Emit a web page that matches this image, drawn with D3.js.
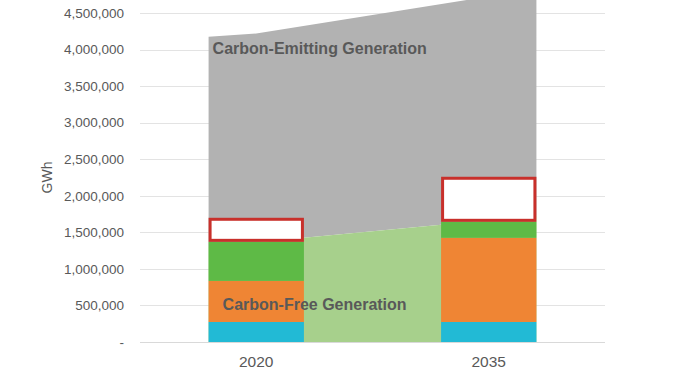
<!DOCTYPE html>
<html>
<head>
<meta charset="utf-8">
<script src="https://cdn.jsdelivr.net/npm/d3@7"></script>
<style>
  body { margin: 0; background: #fff; }
  svg { display: block; font-family: "Liberation Sans", Arial, sans-serif; }
</style>
</head>
<body>
<script>
// categories and stacked bar values (GWh)
var years = ["2020", "2035"];
var hydro = [274000, 274000];
var solar = [562000, 1151000];
var wind = [534000, 219000];
var gap = [329000, 616000];
var barColors = ["#22bad5", "#ef8534", "#5eba46"];

// background areas: points at 2020 left edge, 2020 centre, 2035 right edge
var freeArea = [1300000, 1365000, 1726000];
var totalArea = [4174000, 4219000, 4830000];

var yTicks = [0, 500000, 1000000, 1500000, 2000000, 2500000, 3000000, 3500000, 4000000, 4500000];

var width = 679, height = 375;
var margin = { top: 13, right: 74, bottom: 33, left: 140 };

var svg = d3.select('body')
  .append('svg')
  .attr('width', width)
  .attr('height', height);

var x = d3.scaleBand()
  .domain(years)
  .range([margin.left, width - margin.right])
  .paddingInner(0.59)
  .paddingOuter(0.295);

var y = d3.scaleLinear()
  .domain([0, 4500000])
  .range([height - margin.bottom, margin.top]);

var bw = x.bandwidth();

// gridlines
svg.append('g')
  .selectAll('line')
  .data(yTicks)
  .enter()
  .append('line')
  .attr('x1', margin.left)
  .attr('x2', width - margin.right)
  .attr('y1', function(d) { return Math.round(y(d)) + 0.5; })
  .attr('y2', function(d) { return Math.round(y(d)) + 0.5; })
  .attr('stroke', function(d) { return d === 0 ? '#d9d9d9' : '#e3e3e3'; })
  .attr('stroke-width', 1);

// y axis labels
var yAxis = d3.axisLeft(y)
  .tickValues(yTicks)
  .tickSize(0)
  .tickPadding(16)
  .tickFormat(function(d) { return d === 0 ? '-' : d3.format(',')(d); });

var yg = svg.append('g')
  .attr('transform', 'translate(' + margin.left + ',0)')
  .call(yAxis);
yg.select('.domain').remove();
yg.selectAll('text')
  .attr('fill', '#595959')
  .style('font-size', '13.5px');

svg.append('text')
  .text('GWh')
  .attr('transform', 'translate(52,' + y(2250000) + ') rotate(-90)')
  .attr('text-anchor', 'middle')
  .attr('fill', '#595959')
  .style('font-size', '14px');

// areas
var areaX = [x('2020'), x('2020') + bw / 2, x('2035') + bw];
var areaData = areaX.map(function(px, i) {
  return { x: px, free: freeArea[i], total: totalArea[i] };
});

svg.append('path')
  .datum(areaData)
  .attr('fill', '#b2b2b2')
  .attr('d', d3.area()
    .x(function(d) { return d.x; })
    .y0(function(d) { return y(d.free); })
    .y1(function(d) { return y(d.total); }));

svg.append('path')
  .datum(areaData)
  .attr('fill', '#a7d08c')
  .attr('d', d3.area()
    .x(function(d) { return d.x; })
    .y0(y(0))
    .y1(function(d) { return y(d.free); }));

// stacked bars
var stackInput = years.map(function(yr, i) {
  return { year: yr, hydro: hydro[i], solar: solar[i], wind: wind[i], gap: gap[i] };
});
var series = d3.stack().keys(['hydro', 'solar', 'wind', 'gap'])(stackInput);

series.forEach(function(s, si) {
  var isGap = s.key === 'gap';
  svg.append('g')
    .selectAll('rect')
    .data(s)
    .enter()
    .append('rect')
    .attr('x', function(d) { return x(d.data.year) + (isGap ? 1.5 : 0); })
    .attr('width', bw - (isGap ? 3 : 0))
    .attr('y', function(d) { return y(d[1]) + (isGap ? 1.5 : 0); })
    .attr('height', function(d) { return y(d[0]) - y(d[1]) - (isGap ? 3 : 0); })
    .attr('fill', isGap ? '#ffffff' : barColors[si])
    .attr('stroke', isGap ? '#c8302b' : 'none')
    .attr('stroke-width', isGap ? 3 : 0);
});

// category labels
svg.append('g')
  .selectAll('text')
  .data(years)
  .enter()
  .append('text')
  .text(function(d) { return d; })
  .attr('x', function(d) { return x(d) + bw / 2; })
  .attr('y', height - 8)
  .attr('text-anchor', 'middle')
  .attr('fill', '#595959')
  .style('font-size', '15.5px');

// area labels
svg.append('text')
  .text('Carbon-Emitting Generation')
  .attr('x', x('2020') + 4)
  .attr('y', y(4000000) + 4)
  .attr('fill', '#595959')
  .style('font-size', '16px')
  .style('font-weight', 'bold');

svg.append('text')
  .text('Carbon-Free Generation')
  .attr('x', x('2020') + 14)
  .attr('y', y(440000))
  .attr('fill', '#595959')
  .style('font-size', '16px')
  .style('font-weight', 'bold');
</script>
</body>
</html>
